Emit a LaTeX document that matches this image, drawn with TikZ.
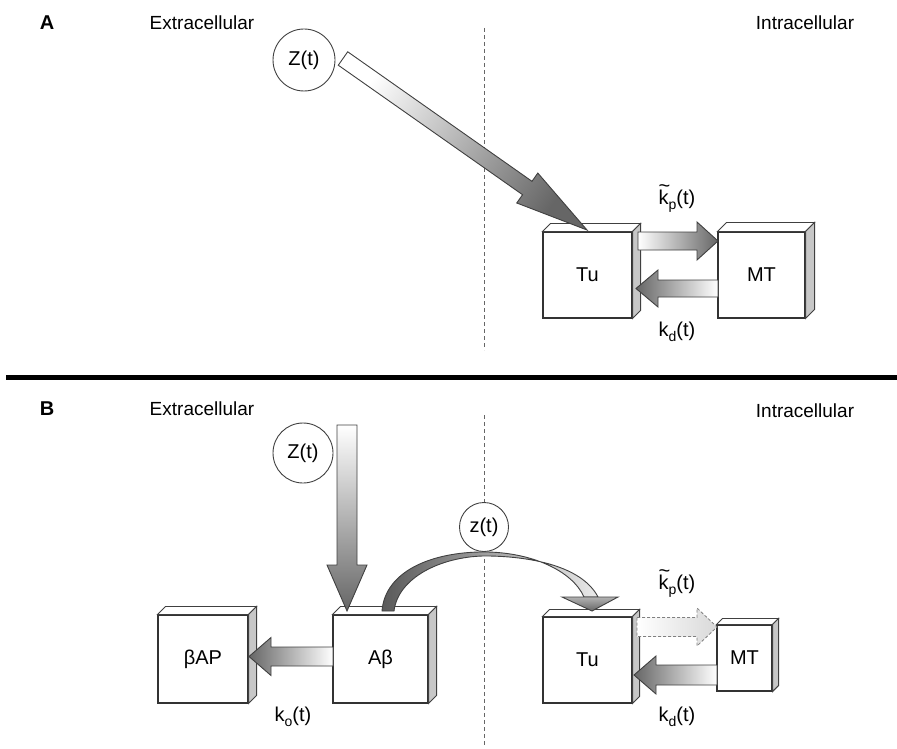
\documentclass[tikz,border=0pt]{standalone}
\usepackage{fontspec}
\setmainfont{Liberation Sans}
\usetikzlibrary{calc}

% block arrow: [style]{tail}{tip}{body half width}{head half width}{head length}
\newcommand{\blockarrow}[6][]{%
  \coordinate (hb) at ($(#3)!#6!(#2)$);
  \path[#1] ($(#2)!#4!90:(#3)$) -- ($(hb)!#4!90:(#3)$) -- ($(hb)!#5!90:(#3)$) -- (#3)
    -- ($(hb)!#5!-90:(#3)$) -- ($(hb)!#4!-90:(#3)$) -- ($(#2)!#4!-90:(#3)$) -- cycle;}
% rate labels
\newcommand{\rate}[1]{k\raisebox{-5pt}{\fontsize{14}{14}\selectfont #1}(t)}
\newcommand{\ratetilde}[1]{\rlap{\raisebox{12pt}{\char"007E}}\rate{#1}}

\begin{document}
\begin{tikzpicture}[x=1pt,y=-1pt,
  font=\fontsize{20}{24}\selectfont,
  box/.style={draw=black!80,line width=1.1pt,fill=white,inner sep=0pt},
  sep/.style={draw=black!60,line width=0.8pt,dash pattern=on 4pt off 3pt},
  blk/.style={draw=black!75,line width=0.9pt},
  conc/.style={draw=black!75,line width=0.9pt,circle,inner sep=0pt},
  side/.style={font=\fontsize{19}{23}\selectfont}]

\useasboundingbox (0,0) rectangle (897,749);

% panel A
\node[font=\fontsize{20}{24}\selectfont\bfseries] (labA) at (47,23) {A};
\node[side] (extA) at (202,23) {Extracellular};
\node[side] (intA) at (805,23) {Intracellular};
\draw[sep] (484,28) -- (484,350);

\node[conc,minimum size=62pt] (zA) at (304,60) {Z(t)};
\node[box,minimum width=89pt,minimum height=86pt] (tuA) at (587.5,275) {Tu};
\node[box,minimum width=87pt,minimum height=86pt] (mtA) at (761.5,275) {MT};

% separator
\draw[line width=4.5pt] (6,377.5) -- (897,377.5);

% panel B
\node[font=\fontsize{20}{24}\selectfont\bfseries] (labB) at (47,409) {B};
\node[side] (extB) at (202,409) {Extracellular};
\node[side] (intB) at (805,411) {Intracellular};

\node[conc,minimum size=60pt] (zB) at (303,453) {Z(t)};
\node[conc,minimum size=49pt] (zc) at (484,527) {z(t)};
\draw[sep] (484,415) -- (zc.north);
\draw[sep] (zc.south) -- (484,745);

\node[box,minimum width=90pt,minimum height=88pt] (bap) at (203,659) {βAP};
\node[box,minimum width=95pt,minimum height=88pt] (ab) at (380.5,659) {Aβ};
\node[box,minimum width=89pt,minimum height=86pt] (tuB) at (587.5,660) {Tu};
\node[box,minimum width=55pt,minimum height=66pt] (mtB) at (744.5,658) {MT};

% depth of the boxes
\foreach \n/\d in {tuA/8,mtA/9,bap/8,ab/8,tuB/7,mtB/6} {
  \draw[blk,fill=white] (\n.north west) -- ++(\d,-\d) -- ($(\n.north east)+(\d,-\d)$) -- (\n.north east) -- cycle;
  \draw[blk,fill=black!22] (\n.north east) -- ++(\d,-\d) -- ($(\n.south east)+(\d,-\d)$) -- (\n.south east) -- cycle;
}

% arrows panel A
\coordinate (zA-out) at (343,58.5);
\coordinate (tuA-in) at (587,230);
\blockarrow[blk,top color=white,bottom color=black!60,shading angle=55]{zA-out}{tuA-in}{8.2pt}{18.3pt}{73pt}

\coordinate (tuA-p) at (638,241);
\coordinate (mtA-p) at (718,241);
\blockarrow[blk,left color=white,right color=black!60]{tuA-p}{mtA-p}{9pt}{19pt}{21pt}
\coordinate (mtA-d) at (718,288.5);
\coordinate (tuA-d) at (636,288.5);
\blockarrow[blk,left color=black!60,right color=white]{mtA-d}{tuA-d}{8.5pt}{18.5pt}{22pt}

\node (kpA) at (677,199) {\ratetilde{p}};
\node (kdA) at (677,332) {\rate{d}};

% arrows panel B
\coordinate (zB-out) at (347,425);
\coordinate (ab-in) at (347,611);
\blockarrow[blk,top color=white,bottom color=black!60]{zB-out}{ab-in}{10pt}{20pt}{46pt}

\coordinate (ab-o) at (333,656.5);
\coordinate (bap-in) at (249,656.5);
\blockarrow[blk,left color=black!60,right color=white]{ab-o}{bap-in}{9.5pt}{19pt}{22pt}

\coordinate (tuB-p) at (637,627);
\coordinate (mtB-p) at (717,627);
\blockarrow[draw=black!50,line width=0.8pt,dash pattern=on 3pt off 2pt,left color=white,right color=black!15]{tuB-p}{mtB-p}{9.5pt}{19pt}{20pt}
\coordinate (mtB-d) at (717,675);
\coordinate (tuB-d) at (634,675);
\blockarrow[blk,left color=black!60,right color=white]{mtB-d}{tuB-d}{10pt}{19pt}{22pt}

% curved arrow under z(t)
\path[blk,left color=black!65,right color=black!8]
  (382,611) .. controls (385,572) and (430,552) .. (zc.south)
  .. controls (530,552) and (572,570) .. (584,597) -- (598,597)
  .. controls (582,566) and (530,556) .. ($(zc.south)+(0,4)$)
  .. controls (440,557) and (398,578) .. (394,611) -- cycle;
\coordinate (tuB-in) at (592,611);
\path[blk,top color=black!30,bottom color=black!60] (562,597) -- (618,597) -- (tuB-in) -- cycle;

\node (kpB) at (677,584) {\ratetilde{p}};
\node (kdB) at (677,717) {\rate{d}};
\node (koB) at (293,717) {\rate{o}};
\end{tikzpicture}
\end{document}
